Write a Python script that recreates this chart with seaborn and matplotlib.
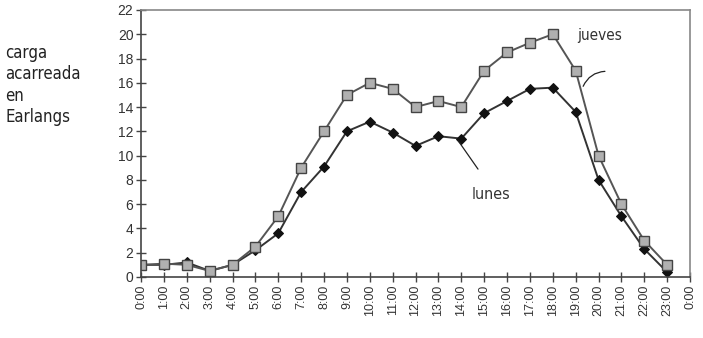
import pandas as pd
import numpy as np
import matplotlib
matplotlib.use('Agg')
import matplotlib.pyplot as plt
import seaborn as sns

# Data
horas = ['0:00', '1:00', '2:00', '3:00', '4:00', '5:00', '6:00', '7:00', '8:00',
         '9:00', '10:00', '11:00', '12:00', '13:00', '14:00', '15:00', '16:00',
         '17:00', '18:00', '19:00', '20:00', '21:00', '22:00', '23:00', '0:00']
jueves = [1.0, 1.1, 1.0, 0.5, 1.0, 2.5, 5.0, 9.0, 12.0, 15.0, 16.0, 15.5, 14.0,
          14.5, 14.0, 17.0, 18.5, 19.3, 20.0, 17.0, 10.0, 6.0, 3.0, 1.0]
lunes = [1.0, 1.0, 1.2, 0.5, 1.0, 2.2, 3.6, 7.0, 9.1, 12.0, 12.8, 11.9, 10.8,
         11.6, 11.4, 13.5, 14.5, 15.5, 15.6, 13.6, 8.0, 5.0, 2.3, 0.4]
y_ticks = list(range(0, 23, 2))


def main():
    sns.set_style('white')
    plt.rcParams['font.family'] = ['Liberation Sans', 'DejaVu Sans']

    df = pd.DataFrame({'hora': np.arange(len(jueves)), 'jueves': jueves, 'lunes': lunes})

    fig = plt.figure(figsize=(7.03, 3.38), dpi=100)
    ax = fig.add_axes([0.2006, 0.1805, 0.781, 0.79])

    # lunes first so the jueves squares sit on top where they overlap
    sns.lineplot(data=df, x='hora', y='lunes', ax=ax, color='#333333', linewidth=1.4,
                 marker='D', markersize=5.5, markerfacecolor='#111111',
                 markeredgecolor='#111111')
    sns.lineplot(data=df, x='hora', y='jueves', ax=ax, color='#555555', linewidth=1.4,
                 marker='s', markersize=7.5, markerfacecolor='#b0b0b0',
                 markeredgecolor='#444444', markeredgewidth=1.0)

    ax.set_xlim(0, len(horas) - 1)
    ax.set_ylim(0, 22)
    ax.set_xticks(np.arange(len(horas)))
    ax.set_xticklabels(horas, rotation=90, fontsize=9, color='#333333')
    ax.set_yticks(y_ticks)
    ax.set_yticklabels([str(v) for v in y_ticks], fontsize=10, color='#333333')
    ax.set_xlabel('')
    ax.set_ylabel('')
    ax.tick_params(axis='both', direction='inout', length=7, width=1.0,
                   color='#444444', left=True, bottom=True, pad=2)

    for side in ['left', 'bottom']:
        ax.spines[side].set_color('#444444')
        ax.spines[side].set_linewidth(1.2)
    for side in ['top', 'right']:
        ax.spines[side].set_color('#888888')
        ax.spines[side].set_linewidth(1.2)

    # Labels with leader lines
    ax.text(19.05, 19.9, 'jueves', fontsize=11, color='#333333', va='center',
            family=['DejaVu Sans'], stretch='condensed')
    ax.annotate('', xy=(19.28, 15.5), xytext=(20.4, 16.95),
                arrowprops=dict(arrowstyle='-', color='#222222', lw=0.9,
                                connectionstyle='arc3,rad=0.35'))
    ax.text(14.45, 6.8, 'lunes', fontsize=11.5, color='#333333', va='center',
            family=['DejaVu Sans'], stretch='condensed')
    ax.annotate('', xy=(13.8, 11.4), xytext=(14.8, 8.7),
                arrowprops=dict(arrowstyle='-', color='#222222', lw=0.9))

    fig.text(0.008, 0.87, 'carga\nacarreada\nen\nEarlangs', fontsize=12,
             color='#222222', va='top', ha='left', linespacing=1.25,
             family=['DejaVu Sans'], stretch='condensed')

    fig.savefig('out.png', dpi=100, facecolor='white')
    plt.close(fig)


if __name__ == '__main__':
    main()
